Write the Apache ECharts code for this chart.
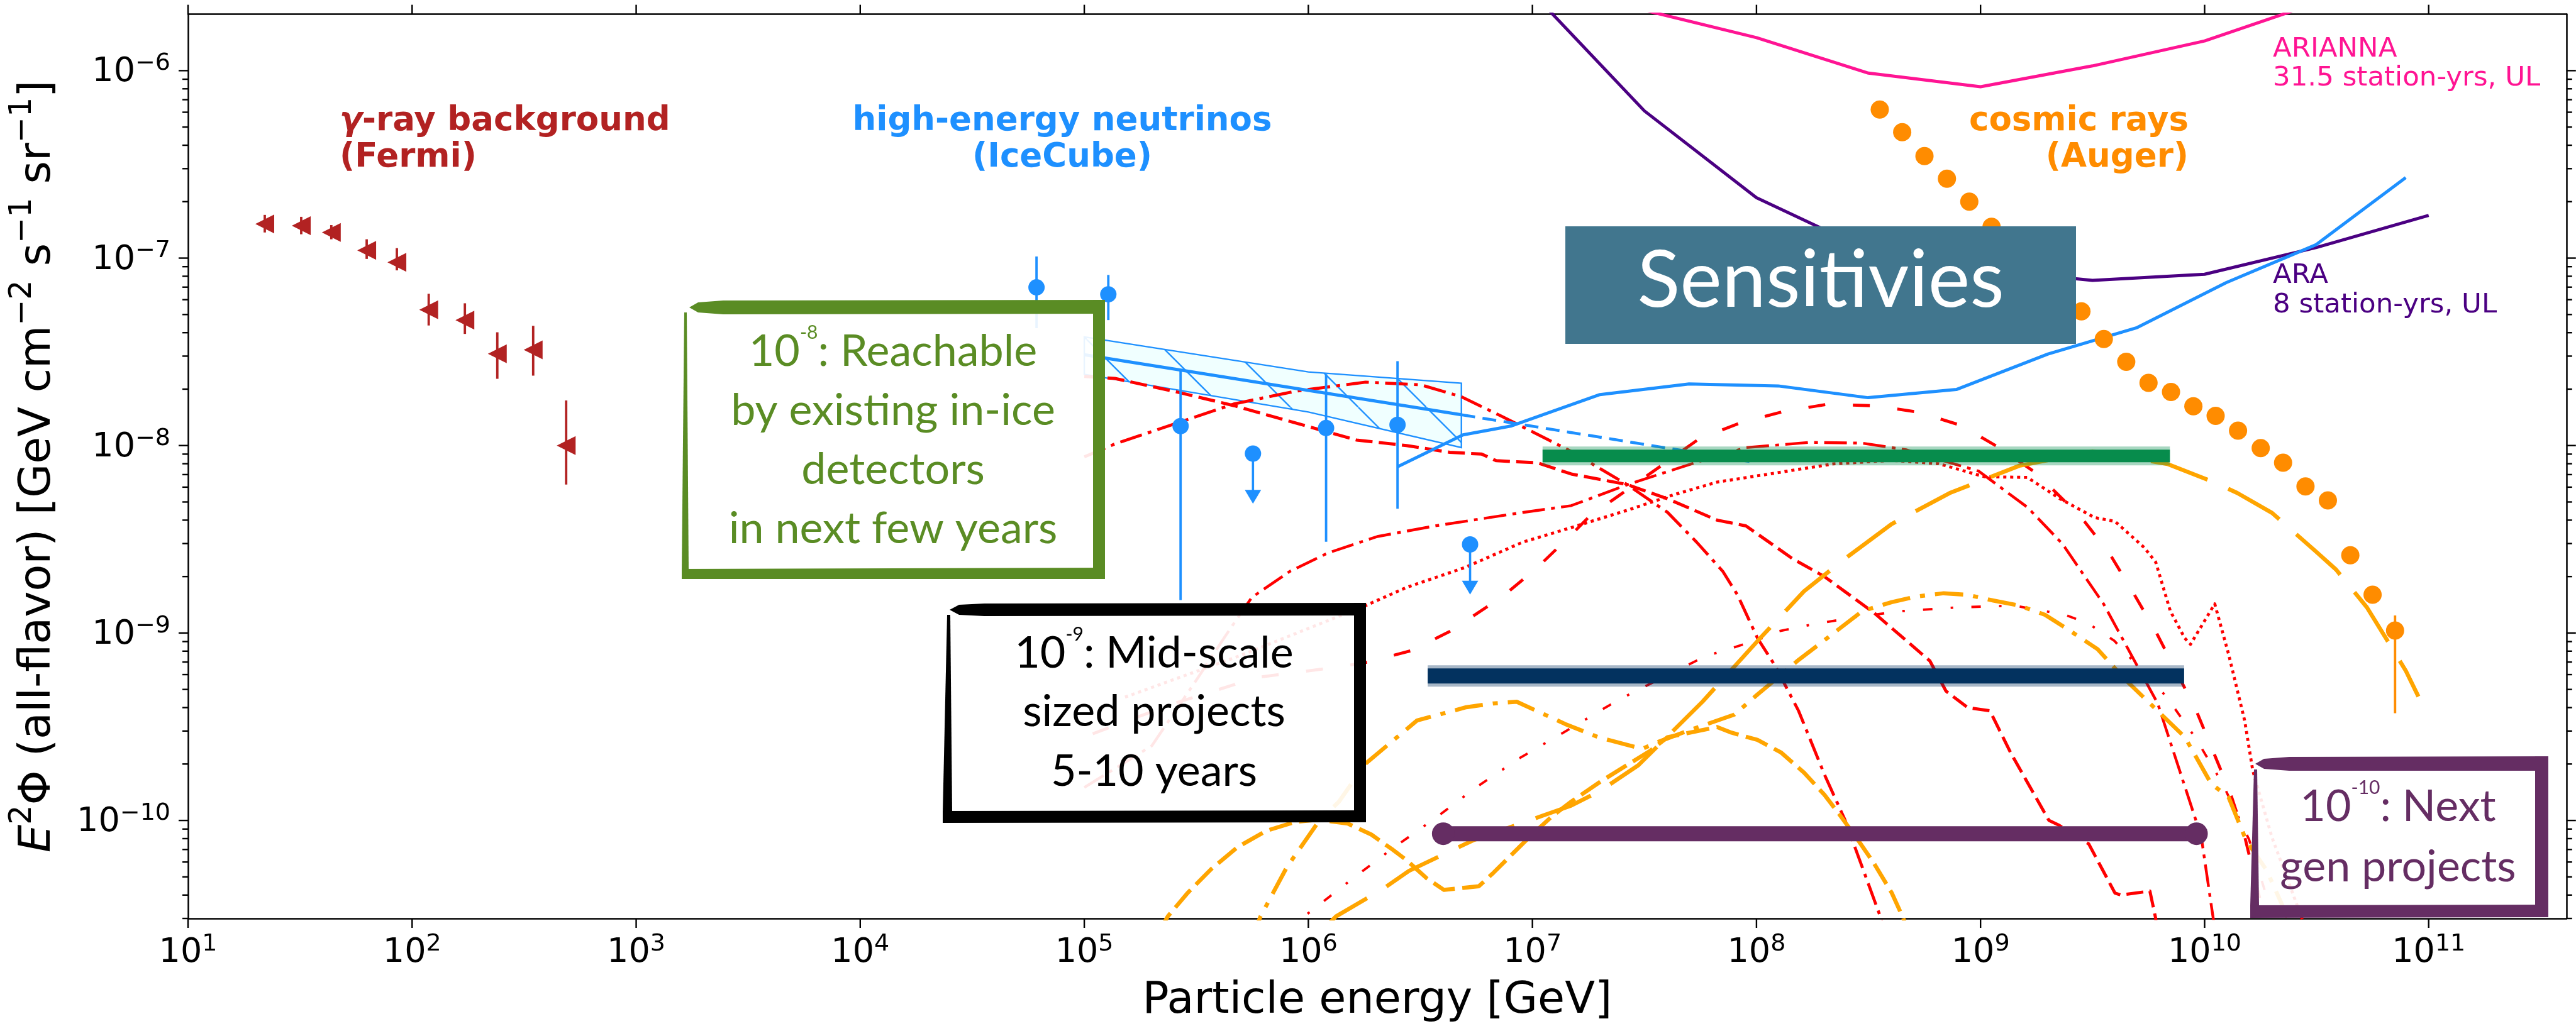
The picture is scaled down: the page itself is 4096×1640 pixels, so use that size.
<!DOCTYPE html>
<html>
<head>
<meta charset="utf-8">
<title>Neutrino and cosmic-ray flux landscape</title>
<script src="https://cdn.jsdelivr.net/npm/echarts@6/dist/echarts.min.js"></script>
<style>
  html, body { margin: 0; padding: 0; background: #ffffff; }
  #chart { width: 4096px; height: 1640px; }
</style>
</head>
<body>
<div id="chart"></div>
<script>
// ---------------- axis ranges and tick values ----------------
const X_MIN = 10, X_MAX = 4.12e11;
const Y_MIN = 3e-11, Y_MAX = 2e-6;
const xMajorTicks = [1e1, 1e2, 1e3, 1e4, 1e5, 1e6, 1e7, 1e8, 1e9, 1e10, 1e11];
const yMajorTicks = [1e-10, 1e-9, 1e-8, 1e-7, 1e-6];
const yMinorMantissas = [2, 3, 4, 5, 6, 7, 8, 9];
const yMinorDecades = [1e-11, 1e-10, 1e-9, 1e-8, 1e-7, 1e-6];

// ---------------- Fermi-LAT isotropic gamma-ray background ----------------
const fermiE  = [22, 32, 43.6, 62.7, 85.5, 118.6, 172, 240, 347, 487];
const fermiF  = [1.52e-7, 1.49e-7, 1.37e-7, 1.10e-7, 9.5e-8, 5.3e-8, 4.67e-8, 3.09e-8, 3.24e-8, 1.0e-8];
const fermiLo = [1.37e-7, 1.34e-7, 1.26e-7, 9.9e-8, 8.6e-8, 4.37e-8, 3.94e-8, 2.27e-8, 2.36e-8, 6.2e-9];
const fermiHi = [1.70e-7, 1.66e-7, 1.50e-7, 1.26e-7, 1.13e-7, 6.45e-8, 5.74e-8, 4.02e-8, 4.35e-8, 1.74e-8];

// ---------------- IceCube astrophysical neutrinos ----------------
const icE  = [6.12e4, 1.28e5, 2.69e5, 1.20e6, 2.50e6];
const icF  = [6.98e-8, 6.41e-8, 1.27e-8, 1.24e-8, 1.29e-8];
const icLo = [4.23e-8, 4.67e-8, 1.5e-9, 3.07e-9, 4.6e-9];
const icHi = [1.02e-7, 8.13e-8, 2.53e-8, 2.40e-8, 2.82e-8];
const icLimitE = [5.66e5, 5.27e6];
const icLimitF = [9.06e-9, 2.97e-9];
const icBandE = [1e5, 1e6, 4.82e6];
const icBandUpper = [3.80e-8, 2.47e-8, 2.15e-8];
const icBandLower = [2.40e-8, 1.51e-8, 9.75e-9];
const icFitE = [1e5, 4.82e6];
const icFitF = [3.05e-8, 1.46e-8];
const icFitExtE = [4.82e6, 9.8e7];
const icFitExtF = [1.46e-8, 8.15e-9];

// ---------------- Pierre Auger cosmic-ray spectrum ----------------
const augerE = [3.55e8, 4.47e8, 5.62e8, 7.08e8, 8.91e8, 1.12e9, 1.41e9, 1.78e9, 2.24e9, 2.82e9, 3.55e9, 4.47e9,
                5.62e9, 7.08e9, 8.91e9, 1.12e10, 1.41e10, 1.78e10, 2.24e10, 2.82e10, 3.55e10, 4.47e10, 5.62e10, 7.08e10];
const augerF = [6.2e-7, 4.7e-7, 3.5e-7, 2.65e-7, 2.0e-7, 1.47e-7, 1.1e-7, 8.4e-8, 6.6e-8, 5.2e-8, 3.7e-8, 2.8e-8,
                2.16e-8, 1.93e-8, 1.62e-8, 1.44e-8, 1.2e-8, 9.7e-9, 8.1e-9, 6.05e-9, 5.1e-9, 2.6e-9, 1.6e-9, 1.03e-9];
const augerErrE = [7.08e10];
const augerErrLo = [3.73e-10];
const augerErrHi = [1.24e-9];

// ---------------- instrument upper limits ----------------
const ariannaE = [3.16e7, 1e8, 3.16e8, 1e9, 3.16e9, 1e10, 3.16e10];
const ariannaF = [2.1e-6, 1.5e-6, 9.7e-7, 8.2e-7, 1.06e-6, 1.44e-6, 2.3e-6];
const araE = [1e7, 3.16e7, 1e8, 3.16e8, 1e9, 3.16e9, 1e10, 3.16e10, 1e11];
const araF = [2.6e-6, 6.1e-7, 2.1e-7, 1.1e-7, 8.7e-8, 7.6e-8, 8.2e-8, 1.14e-7, 1.69e-7];
const iceLimitE = [2.5e6, 4.9e6, 8.0e6, 2.0e7, 5.0e7, 1.25e8, 3.15e8, 7.8e8, 2.0e9, 5.0e9, 1.25e10, 3.15e10, 7.9e10];
const iceLimitF = [7.7e-9, 1.14e-8, 1.27e-8, 1.87e-8, 2.13e-8, 2.08e-8, 1.80e-8, 1.99e-8, 3.08e-8, 4.26e-8, 7.4e-8, 1.18e-7, 2.69e-7];

// ---------------- cosmogenic / source neutrino models ----------------
const modelA = [[1.0e5,8.7e-9],[1.37e5,1.02e-8],[4.68e5,1.67e-8],[8.77e5,1.95e-8],[1.80e6,2.18e-8],[3.17e6,2.11e-8],
  [4.82e6,1.82e-8],[7.31e6,1.43e-8],[1.02e7,1.17e-8],[1.49e7,9.3e-9],[2.64e7,6.2e-9],[4.01e7,4.4e-9],[5.41e7,3.05e-9],
  [7.08e7,2.13e-9],[8.22e7,1.6e-9],[1.01e8,9.4e-10],[1.21e8,6.7e-10],[1.54e8,3.85e-10],[2.01e8,1.76e-10],
  [2.48e8,1.01e-10],[3.56e8,3.1e-11],[4.0e8,2.0e-11]];
const modelB = [[1.0e5,1.5e-10],[2.0e5,2.5e-10],[3.16e5,5.6e-10],[4.47e5,1.05e-9],[5.60e5,1.55e-9],[8.26e5,2.13e-9],
  [1.22e6,2.67e-9],[2.03e6,3.27e-9],[3.69e6,3.73e-9],[8.77e6,4.37e-9],[1.49e7,4.78e-9],[2.71e7,6.24e-9],[5.41e7,8.15e-9],
  [8.97e7,9.75e-9],[1.73e8,1.04e-8],[2.97e8,1.03e-8],[4.65e8,9.5e-9],[9.82e8,7.3e-9],[1.62e9,4.68e-9],[2.32e9,2.99e-9],
  [3.54e9,1.43e-9],[6.18e9,4.2e-10],[9.66e9,8.2e-11],[1.08e10,3.3e-11],[1.15e10,2.0e-11]];
const modelC = [[1.0e5,2.34e-8],[1.37e5,2.28e-8],[2.50e5,1.95e-8],[4.68e5,1.63e-8],[6.12e5,1.49e-8],[1.11e6,1.22e-8],
  [1.64e6,1.07e-8],[2.74e6,1.0e-8],[4.28e6,9.2e-9],[5.94e6,9.0e-9],[6.90e6,8.3e-9],[1.05e7,8.1e-9],[1.49e7,7.05e-9],
  [2.64e7,6.2e-9],[4.01e7,5.2e-9],[6.67e7,4.0e-9],[8.97e7,3.73e-9],[1.45e8,2.49e-9],[2.01e8,2.0e-9],[3.35e8,1.28e-9],
  [5.94e8,7.1e-10],[7.01e8,4.9e-10],[8.77e8,4.0e-10],[1.10e9,3.85e-10],[1.37e9,2.27e-10],[2.02e9,1.0e-10],
  [2.25e9,9.4e-11],[3.04e9,7.5e-11],[3.98e9,4.1e-11],[4.23e9,4.0e-11],[5.70e9,4.2e-11],[6.05e9,3.0e-11],[6.2e9,2.0e-11]];
const modelD = [[1.52e5,4.55e-10],[5.0e5,7.6e-10],[1.80e6,1.40e-9],[2.74e6,1.75e-9],[4.97e6,2.23e-9],[9.04e6,3.05e-9],
  [1.49e7,3.65e-9],[2.72e7,4.56e-9],[4.26e7,5.46e-9],[6.67e7,6.38e-9],[1.21e8,7.13e-9],[2.20e8,7.98e-9],[4.01e8,8.34e-9],
  [6.5e8,8.0e-9],[1.04e9,6.82e-9],[1.62e9,6.76e-9],[2.25e9,5.22e-9],[3.23e9,4.13e-9],[3.98e9,3.94e-9],[5.37e9,2.86e-9],
  [6.05e9,2.39e-9],[7.03e9,1.31e-9],[8.15e9,9.4e-10],[8.65e9,8.7e-10],[1.11e10,1.43e-9],[1.28e10,7.7e-10],
  [1.51e10,3.4e-10],[1.64e10,1.85e-10],[2.0e10,8.1e-11],[2.78e10,2.8e-11]];
const modelE = [[1.09e5,2.9e-10],[2.5e5,4.2e-10],[5.93e5,5.8e-10],[1.38e6,6.6e-10],[1.84e6,7.0e-10],[2.88e6,8.05e-10],
  [4.28e6,1.02e-9],[7.33e6,1.56e-9],[1.05e7,2.23e-9],[1.49e7,3.34e-9],[1.79e7,4.17e-9],[5.57e7,1.09e-8],[8.47e7,1.32e-8],
  [1.32e8,1.52e-8],[2.07e8,1.66e-8],[3.35e8,1.63e-8],[5.24e8,1.51e-8],[8.20e8,1.28e-8],[1.21e9,9.75e-9],[1.77e9,7.13e-9],
  [2.82e9,4.13e-9],[3.75e9,2.67e-9],[4.76e9,1.67e-9],[6.05e9,1.02e-9],[9.14e9,3.9e-10],[1.30e10,1.41e-10],
  [1.51e10,8.2e-11],[1.88e10,2.8e-11]];
const modelF = [[8.5e5,2.4e-11],[9.59e5,3.08e-11],[1.55e6,4.82e-11],[2.36e6,7.05e-11],[3.69e6,1.03e-10],[5.60e6,1.50e-10],
  [8.77e6,2.15e-10],[1.42e7,3.01e-10],[2.20e7,4.11e-10],[2.80e7,4.81e-10],[5.92e7,7.52e-10],[7.50e7,8.2e-10],
  [1.01e8,9.18e-10],[1.25e8,1.02e-9],[1.63e8,1.09e-9],[2.80e8,1.22e-9],[4.52e8,1.31e-9],[7.96e8,1.37e-9],
  [1.41e9,1.40e-9],[2.39e9,1.25e-9],[3.04e9,1.12e-9],[3.95e9,9.1e-10],[6.76e9,4.57e-10],[9.12e9,2.75e-10],
  [1.20e10,1.58e-10],[1.58e10,7.9e-11],[2.0e10,3.16e-11],[2.14e10,2.0e-11]];
const modelG = [[1.12e6,2.5e-11],[1.33e6,3.08e-11],[2.15e6,4.31e-11],[2.81e6,5.38e-11],[5.43e6,7.83e-11],[1.11e7,1.06e-10],
  [1.49e7,1.20e-10],[2.01e7,1.44e-10],[2.97e7,1.97e-10],[4.01e7,2.81e-10],[5.74e7,4.30e-10],[1.04e8,9.40e-10],
  [1.63e8,1.67e-9],[2.48e8,2.49e-9],[4.01e8,3.81e-9],[7.28e8,5.58e-9],[1.49e9,7.80e-9],[3.16e9,9.3e-9],[6.82e9,7.98e-9],
  [1.10e10,6.38e-9],[1.40e10,5.58e-9],[2.0e10,4.37e-9],[3.13e10,2.73e-9],[3.86e10,2.18e-9],[5.30e10,1.37e-9],
  [6.44e10,9.4e-10],[7.91e10,6.28e-10],[9.0e10,4.58e-10]];
const modelH = [[5.5e5,2.24e-11],[6.12e5,3.08e-11],[8.02e5,5.64e-11],[1.11e6,9.84e-11],[1.37e6,1.26e-10],[1.80e6,2.01e-10],
  [3.05e6,3.41e-10],[5.07e6,4.02e-10],[6.70e6,4.21e-10],[8.51e6,4.30e-10],[1.40e7,3.27e-10],[1.97e7,2.78e-10],
  [3.09e7,2.41e-10],[3.66e7,2.63e-10],[4.94e7,3.01e-10],[7.96e7,3.67e-10],[1.01e8,4.70e-10],[1.21e8,5.62e-10],
  [1.54e8,7.18e-10],[2.07e8,9.40e-10],[2.97e8,1.31e-9],[4.01e8,1.46e-9],[5.09e8,1.56e-9],[6.85e8,1.63e-9],
  [8.71e8,1.60e-9],[1.14e9,1.49e-9],[1.49e9,1.40e-9],[1.94e9,1.25e-9],[2.47e9,1.04e-9],[3.33e9,8.2e-10],
  [4.36e9,5.74e-10],[5.52e9,4.37e-10],[8.17e9,2.78e-10],[1.07e10,1.57e-10],[1.28e10,1.33e-10],[1.53e10,7.87e-11],
  [1.89e10,5.43e-11],[2.36e10,3.01e-11],[2.6e10,2.0e-11]];
const modelI = [[2.14e5,2.51e-11],[2.36e5,3.08e-11],[2.90e5,4.12e-11],[3.69e5,5.51e-11],[4.82e5,7.19e-11],[6.50e5,8.81e-11],
  [8.77e5,9.84e-11],[1.11e6,1.01e-10],[1.50e6,9.62e-11],[1.91e6,8.41e-11],[2.36e6,7.03e-11],[2.74e6,6.15e-11],
  [3.37e6,4.92e-11],[4.03e6,4.26e-11],[5.77e6,4.46e-11],[6.70e6,5.26e-11],[9.59e6,8.05e-11],[1.22e7,1.05e-10],
  [1.49e7,1.26e-10],[2.01e7,1.61e-10],[2.80e7,2.06e-10],[3.35e7,2.35e-10],[4.01e7,2.78e-10],[6.10e7,3.08e-10],
  [6.67e7,3.15e-10],[7.74e7,2.94e-10],[1.01e8,2.69e-10],[1.29e8,2.30e-10],[1.63e8,1.80e-10],[2.01e8,1.37e-10],
  [2.34e8,1.08e-10],[2.80e8,8.05e-11],[3.35e8,5.89e-11],[4.01e8,4.12e-11],[4.52e8,3.01e-11],[4.9e8,2.24e-11]];

// ---------------- target sensitivity levels ----------------
const reachE = [1.11e7, 7.0e9];      const reachF = 8.8e-9;
const midScaleE = [3.41e6, 8.1e9];   const midScaleF = 5.9e-10;
const nextGenE = [4.0e6, 9.2e9];     const nextGenF = 8.5e-11;

// ---------------- colours ----------------
const RED = '#ff0000', ORANGE = '#ffa500', DARKORANGE = '#ff8c00', BLUE = '#1e90ff', FIREBRICK = '#b22222';
const PINK = '#ff1493', INDIGO = '#4b0082';
const GREEN_TXT = '#5a8c24', PURPLE = '#652d63', SENS_BOX = '#41768e';
const REACH_GREEN = '#078c4c', MID_NAVY = '#03325f';

// ---------------- helpers ----------------
function powerLabel(v) {
  if (!(v > 0)) return '';
  const e = Math.log10(v);
  const r = Math.round(e);
  if (Math.abs(e - r) > 1e-6) return '';
  return '{b|10}{s|' + String(r).replace('-', '\u2212') + '}';
}
const tickRich = {
  b: { fontSize: 54, fontFamily: 'DejaVu Sans', color: '#000', lineHeight: 60, verticalAlign: 'bottom' },
  s: { fontSize: 38, fontFamily: 'DejaVu Sans', color: '#000', lineHeight: 38, verticalAlign: 'top' }
};
const pairs = (xs, ys) => xs.map((x, i) => [x, Array.isArray(ys) ? ys[i] : ys]);

function curve(data, color, width, dash, z) {
  return {
    type: 'line', data: data, showSymbol: false, symbol: 'none', smooth: false, clip: true, silent: true,
    z: z || 3, lineStyle: { color: color, width: width, type: dash || 'solid', cap: 'butt', join: 'round' }
  };
}
function markers(xs, ys, symbol, size, color, rotate) {
  return { type: 'scatter', data: pairs(xs, ys), symbol: symbol, symbolSize: size, symbolRotate: rotate || 0,
    itemStyle: { color: color, opacity: 1 }, silent: true, z: 5 };
}
function errorBars(xs, lo, hi, color, width, z) {
  return {
    type: 'custom', silent: true, z: z || 5, encode: { x: 0, y: [1, 2] },
    data: xs.map((x, i) => [x, lo[i], hi[i]]),
    renderItem: function (params, api) {
      const a = api.coord([api.value(0), api.value(1)]);
      const b = api.coord([api.value(0), api.value(2)]);
      return { type: 'line', shape: { x1: a[0], y1: a[1], x2: b[0], y2: b[1] }, style: { stroke: color, lineWidth: width } };
    }
  };
}
// tick marks along one side of the frame
function ticks(values, side, len) {
  return {
    type: 'custom', silent: true, clip: false, z: 60,
    data: values.map(v => (side === 'left' ? [X_MIN, v] : side === 'right' ? [X_MAX, v] : side === 'bottom' ? [v, Y_MIN] : [v, Y_MAX])),
    renderItem: function (params, api) {
      const p = api.coord([api.value(0), api.value(1)]);
      let s;
      if (side === 'left') s = { x1: p[0] - len, y1: p[1], x2: p[0], y2: p[1] };
      else if (side === 'right') s = { x1: p[0], y1: p[1], x2: p[0] + len, y2: p[1] };
      else if (side === 'bottom') s = { x1: p[0], y1: p[1], x2: p[0], y2: p[1] + len };
      else s = { x1: p[0], y1: p[1] - len, x2: p[0], y2: p[1] };
      return { type: 'line', shape: s, style: { stroke: '#000', lineWidth: 2.4 } };
    }
  };
}
const yMinorTicks = [];
yMinorDecades.forEach(d => yMinorMantissas.forEach(m => {
  const v = m * d;
  if (v >= Y_MIN && v < Y_MAX) yMinorTicks.push(v);
}));

// hatched fill for the IceCube band
const HATCH = 108;
const hatch = document.createElement('canvas');
hatch.width = HATCH; hatch.height = HATCH;
(function () {
  const c = hatch.getContext('2d');
  c.fillStyle = '#f0ffff';
  c.fillRect(0, 0, HATCH, HATCH);
  c.strokeStyle = BLUE; c.lineWidth = 2.4;
  for (let k = -1; k <= 1; k++) {
    c.beginPath(); c.moveTo(k * HATCH, 0); c.lineTo(k * HATCH + HATCH, HATCH); c.stroke();
  }
})();

const bandSeries = {
  type: 'custom', silent: true, z: 2, data: [[icBandE[0], icBandUpper[0]]],
  renderItem: function (params, api) {
    const pts = [];
    icBandE.forEach((e, i) => pts.push(api.coord([e, icBandUpper[i]])));
    for (let i = icBandE.length - 1; i >= 0; i--) pts.push(api.coord([icBandE[i], icBandLower[i]]));
    return { type: 'polygon', shape: { points: pts },
      style: { fill: { image: hatch, repeat: 'repeat' }, stroke: BLUE, lineWidth: 2.4 } };
  }
};

const limitArrows = {
  type: 'custom', silent: true, z: 5, data: pairs(icLimitE, icLimitF),
  renderItem: function (params, api) {
    const top = api.coord([api.value(0), api.value(1)]);
    const tip = api.coord([api.value(0), api.value(1) * 0.54]);
    return { type: 'group', children: [
      { type: 'line', shape: { x1: top[0], y1: top[1], x2: tip[0], y2: tip[1] - 20 }, style: { stroke: BLUE, lineWidth: 3.6 } },
      { type: 'polygon', shape: { points: [[tip[0] - 13, tip[1] - 22], [tip[0] + 13, tip[1] - 22], [tip[0], tip[1]]] }, style: { fill: BLUE } }
    ] };
  }
};

// brush-like level bar from E0 to E1 at a flux level: optional soft halo, solid core, optional end blobs
function levelBar(xs, y, color, width, halo, blob) {
  return {
    type: 'custom', silent: true, z: 6, data: [[xs[0], y, xs[1]]], encode: { x: [0, 2], y: 1 },
    renderItem: function (params, api) {
      const a = api.coord([api.value(0), api.value(1)]);
      const b = api.coord([api.value(2), api.value(1)]);
      const kids = [];
      if (halo) kids.push({ type: 'line', shape: { x1: a[0], y1: a[1], x2: b[0], y2: b[1] },
        style: { stroke: color, lineWidth: width + halo, opacity: 0.35, lineCap: 'butt' } });
      kids.push({ type: 'line', shape: { x1: a[0], y1: a[1], x2: b[0], y2: b[1] },
        style: { stroke: color, lineWidth: width, lineCap: blob ? 'round' : 'butt' } });
      if (blob) {
        kids.push({ type: 'circle', shape: { cx: a[0], cy: a[1], r: blob / 2 }, style: { fill: color } });
        kids.push({ type: 'circle', shape: { cx: b[0], cy: b[1], r: blob / 2 }, style: { fill: color } });
      }
      return { type: 'group', children: kids };
    }
  };
}

const series = [
  bandSeries,
  curve(modelA, RED, 4.8, [36, 10, 6, 10]),
  curve(modelB, RED, 4.4, [36, 10, 6, 10]),
  curve(modelC, RED, 5, [27, 10]),
  curve(modelD, RED, 4.8, [5, 6]),
  curve(modelE, RED, 4.8, [27, 44]),
  curve(modelF, RED, 3.8, [15, 29, 4, 29]),
  curve(modelG, ORANGE, 6.5, [95, 36]),
  curve(modelH, ORANGE, 6.5, [45, 16, 8, 16]),
  curve(modelI, ORANGE, 6.5, [37, 12]),
  curve(pairs(icFitE, icFitF), BLUE, 5, 'solid', 4),
  curve(pairs(icFitExtE, icFitExtF), BLUE, 4.6, [22, 12], 4),
  curve(pairs(ariannaE, ariannaF), PINK, 5, 'solid', 4),
  curve(pairs(araE, araF), INDIGO, 5, 'solid', 4),
  curve(pairs(iceLimitE, iceLimitF), BLUE, 5, 'solid', 4),
  errorBars(fermiE, fermiLo, fermiHi, FIREBRICK, 3.8),
  markers(fermiE, fermiF, 'triangle', 30, FIREBRICK, 90),
  errorBars(icE, icLo, icHi, BLUE, 3.8),
  markers(icE, icF, 'circle', 26, BLUE),
  limitArrows,
  markers(icLimitE, icLimitF, 'circle', 26, BLUE),
  errorBars(augerErrE, augerErrLo, augerErrHi, DARKORANGE, 3.8),
  markers(augerE, augerF, 'circle', 29, DARKORANGE),
  levelBar(reachE, reachF, REACH_GREEN, 20, 10, 0),
  levelBar(midScaleE, midScaleF, MID_NAVY, 24, 10, 0),
  levelBar(nextGenE, nextGenF, PURPLE, 24, 0, 36),
  ticks(xMajorTicks, 'bottom', 15),
  ticks(xMajorTicks, 'top', 15),
  ticks(yMajorTicks, 'left', 15),
  ticks(yMajorTicks, 'right', 15),
  ticks(yMinorTicks, 'left', 9),
  ticks(yMinorTicks, 'right', 9)
];

// ---------------- annotation boxes and labels ----------------
const boxRich = (color) => ({
  a: { fontSize: 70, fontFamily: 'Lato', fill: color, color: color, lineHeight: 80, verticalAlign: 'bottom' },
  s: { fontSize: 30, fontFamily: 'Lato', fill: color, color: color, lineHeight: 54, verticalAlign: 'top' }
});
function boxText(x, y, text, color) {
  return { type: 'text', x: x, y: y, z: 110,
    style: { text: text, rich: boxRich(color), fill: color, align: 'center', verticalAlign: 'middle',
             fontSize: 70, fontFamily: 'Lato' } };
}
function poly(points, color) { return { type: 'polygon', shape: { points: points }, style: { fill: color }, z: 105 }; }
function rect(x, y, w, h, fill, z) { return { type: 'rect', shape: { x: x, y: y, width: w, height: h }, style: { fill: fill }, z: z || 105 }; }
function plainText(x, y, text, color, font, align) {
  return { type: 'text', x: x, y: y, z: 110,
    style: { text: text, fill: color, font: font, align: align || 'left', verticalAlign: 'middle' } };
}
const WHITE_VEIL = 'rgba(255,255,255,0.9)';
const BOLD = 'bold 53px "DejaVu Sans"';
const SMALL = '43.5px "DejaVu Sans"';

const graphics = [
  // reachable now
  rect(1089, 495, 652, 412, WHITE_VEIL, 100),
  poly([[1096, 489], [1110, 481], [1150, 478], [1757, 477], [1757, 499], [1150, 500], [1110, 497]], GREEN_TXT),
  rect(1738, 477, 19, 444, GREEN_TXT),
  poly([[1084, 905], [1757, 903], [1757, 921], [1084, 921]], GREEN_TXT),
  poly([[1088, 497], [1092, 497], [1095, 906], [1084, 906]], GREEN_TXT),
  boxText(1420, 554, '{a|10}{s|-8}{a|: Reachable}', GREEN_TXT),
  boxText(1420, 648, '{a|by existing in-ice}', GREEN_TXT),
  boxText(1420, 742, '{a|detectors}', GREEN_TXT),
  boxText(1420, 836, '{a|in next few years}', GREEN_TXT),
  // mid-scale
  rect(1508, 975, 648, 318, WHITE_VEIL, 100),
  poly([[1510, 970], [1525, 962], [1565, 960], [2172, 959], [2172, 979], [1565, 980], [1525, 978]], '#000'),
  rect(2153, 959, 19, 349, '#000'),
  poly([[1499, 1290], [2172, 1289], [2172, 1308], [1499, 1309]], '#000'),
  poly([[1506, 978], [1511, 978], [1514, 1292], [1499, 1292]], '#000'),
  boxText(1835, 1034, '{a|10}{s|-9}{a|: Mid-scale}', '#000'),
  boxText(1835, 1127, '{a|sized projects}', '#000'),
  boxText(1835, 1222, '{a|5-10 years}', '#000'),
  // next generation
  rect(3588, 1222, 445, 220, WHITE_VEIL, 100),
  poly([[3586, 1215], [3600, 1207], [3640, 1204], [4052, 1203], [4052, 1226], [3640, 1226], [3600, 1223]], PURPLE),
  rect(4031, 1203, 21, 256, PURPLE),
  poly([[3578, 1440], [4052, 1439], [4052, 1459], [3578, 1460]], PURPLE),
  poly([[3584, 1224], [3589, 1224], [3592, 1441], [3578, 1441]], PURPLE),
  boxText(3813, 1278, '{a|10}{s|-10}{a|: Next}', PURPLE),
  boxText(3813, 1374, '{a|gen projects}', PURPLE),
  // section heading
  rect(2489, 360, 812, 187, SENS_BOX, 105),
  plainText(2895, 447, 'Sensitivies', '#ffffff', '126px Lato', 'center'),
  // data annotations
  { type: 'text', x: 540, y: 193.5, z: 110, style: { text: '{g|\u03b3}{t|-ray background}', align: 'left', verticalAlign: 'middle',
      rich: { g: { font: 'italic bold 53px "DejaVu Sans"', fill: FIREBRICK, color: FIREBRICK },
              t: { font: BOLD, fill: FIREBRICK, color: FIREBRICK } } } },
  plainText(540, 251.5, '(Fermi)', FIREBRICK, BOLD, 'left'),
  plainText(1689, 193.5, 'high-energy neutrinos', BLUE, BOLD, 'center'),
  plainText(1689, 251.5, '(IceCube)', BLUE, BOLD, 'center'),
  plainText(3480, 193.5, 'cosmic rays', DARKORANGE, BOLD, 'right'),
  plainText(3480, 251.5, '(Auger)', DARKORANGE, BOLD, 'right'),
  plainText(3614, 79, 'ARIANNA', PINK, SMALL, 'left'),
  plainText(3614, 125, '31.5 station-yrs, UL', PINK, SMALL, 'left'),
  plainText(3614, 439, 'ARA', INDIGO, SMALL, 'left'),
  plainText(3614, 486, '8 station-yrs, UL', INDIGO, SMALL, 'left')
];

const axisLineStyle = { show: true, onZero: false, lineStyle: { color: '#000', width: 2.5 } };
const yNameRich = {
  i: { fontSize: 70, fontFamily: 'DejaVu Sans', fontStyle: 'italic', color: '#000', lineHeight: 84, verticalAlign: 'bottom' },
  n: { fontSize: 70, fontFamily: 'DejaVu Sans', color: '#000', lineHeight: 84, verticalAlign: 'bottom' },
  s: { fontSize: 49, fontFamily: 'DejaVu Sans', color: '#000', lineHeight: 49, verticalAlign: 'top' }
};

const option = {
  animation: false,
  backgroundColor: '#ffffff',
  textStyle: { fontFamily: 'DejaVu Sans' },
  grid: { left: 299, top: 22.6, width: 3781.8, height: 1445.2, containLabel: false },
  xAxis: [
    { type: 'log', logBase: 10, min: X_MIN, max: X_MAX, interval: 1, position: 'bottom',
      axisLine: axisLineStyle, axisTick: { show: false }, splitLine: { show: false }, minorTick: { show: false },
      axisLabel: { formatter: powerLabel, margin: 22, rich: tickRich, showMaxLabel: false },
      name: 'Particle energy [GeV]', nameLocation: 'middle', nameGap: 90,
      nameTextStyle: { fontSize: 70, fontFamily: 'DejaVu Sans', color: '#000', lineHeight: 84 } },
    { type: 'log', logBase: 10, min: X_MIN, max: X_MAX, interval: 1, position: 'top',
      axisLine: axisLineStyle, axisTick: { show: false }, splitLine: { show: false }, axisLabel: { show: false } }
  ],
  yAxis: [
    { type: 'log', logBase: 10, min: Y_MIN, max: Y_MAX, position: 'left',
      axisLine: axisLineStyle, axisTick: { show: false }, splitLine: { show: false }, minorTick: { show: false },
      axisLabel: { formatter: powerLabel, margin: 28, rich: tickRich, showMinLabel: false, showMaxLabel: false },
      name: '{i|E}{s|2}{n|\u03a6 (all-flavor) [GeV cm}{s|\u22122}{n| s}{s|\u22121}{n| sr}{s|\u22121}{n|]}',
      nameLocation: 'middle', nameRotate: 90, nameGap: 203,
      nameTextStyle: { rich: yNameRich, fontSize: 70, fontFamily: 'DejaVu Sans', color: '#000' } },
    { type: 'log', logBase: 10, min: Y_MIN, max: Y_MAX, position: 'right',
      axisLine: axisLineStyle, axisTick: { show: false }, splitLine: { show: false }, axisLabel: { show: false } }
  ],
  series: series,
  graphic: { elements: graphics }
};

const chart = echarts.init(document.getElementById('chart'), null, { renderer: 'canvas', width: 4096, height: 1640 });
chart.setOption(option);
</script>
</body>
</html>
